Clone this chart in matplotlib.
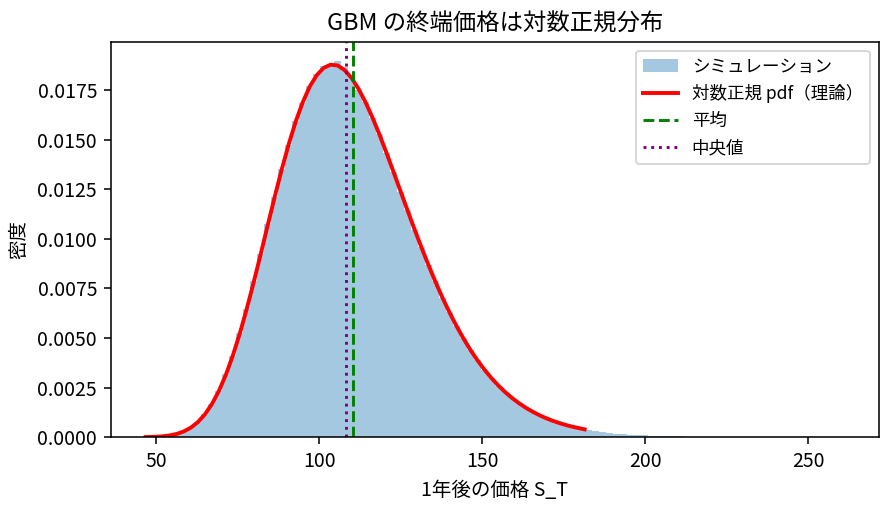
import numpy as np
import matplotlib
matplotlib.use("Agg")
import matplotlib.pyplot as plt

plt.rcParams['font.family'] = ['Noto Sans CJK JP', 'DejaVu Sans']

# histogram of simulated S_T (density per bin), 100 bins
hist_lo, hist_hi = 46.7, 260.9
density = [
    0.00001, 0.00002, 0.00005, 0.00009, 0.00017, 0.00030, 0.00049, 0.00077, 0.00115, 0.00168,
    0.00232, 0.00316, 0.00410, 0.00526, 0.00647, 0.00786, 0.00921, 0.01073, 0.01210, 0.01352,
    0.01475, 0.01594, 0.01684, 0.01770, 0.01832, 0.01872, 0.01880, 0.01897, 0.01868, 0.01815,
    0.01748, 0.01690, 0.01607, 0.01526, 0.01430, 0.01339, 0.01238, 0.01146, 0.01046, 0.00958,
    0.00866, 0.00785, 0.00703, 0.00631, 0.00560, 0.00500, 0.00440, 0.00389, 0.00341, 0.00300,
    0.00260, 0.00228, 0.00196, 0.00171, 0.00147, 0.00127, 0.00109, 0.00094, 0.00080, 0.00069,
    0.00058, 0.00050, 0.00042, 0.00036, 0.00030, 0.00026, 0.00022, 0.00018, 0.00016, 0.00013,
    0.00011, 0.00009, 0.00008, 0.00006, 0.00005, 0.00005, 0.00004, 0.00003, 0.00003, 0.00002,
    0.00002, 0.00002, 0.00001, 0.00001, 0.00001, 0.00001, 0.00001, 0.0, 0.00001, 0.0,
    0.0, 0.00001, 0.0, 0.0, 0.0, 0.0, 0.0, 0.0, 0.0, 0.000005,
]

# theoretical lognormal pdf
curve_x = [46.7, 47.77, 49.91, 52.05, 54.20, 56.34, 58.48, 60.62, 62.76, 64.91,
           67.05, 69.19, 71.33, 73.47, 75.62, 77.76, 79.90, 82.04, 84.18, 86.33,
           88.47, 90.61, 92.75, 94.89, 97.04, 99.18, 101.32, 103.46, 105.60, 107.75,
           109.89, 112.03, 114.17, 116.31, 118.46, 120.60, 122.74, 124.88, 127.02, 129.17,
           131.31, 133.45, 135.59, 137.73, 139.88, 142.02, 144.16, 146.30, 148.44, 150.59,
           152.73, 154.87, 157.01, 159.15, 161.30, 163.44, 165.58, 167.72, 169.86, 172.01,
           174.15, 176.29, 178.43, 180.57, 181.4]
curve_y = [0.000006, 0.0000096, 0.0000219, 0.0000464, 0.0000918, 0.000169, 0.000295, 0.000486, 0.000766, 0.001157,
           0.001674, 0.002336, 0.003151, 0.004124, 0.005244, 0.006490, 0.007838, 0.009253, 0.010700, 0.012134,
           0.013505, 0.014773, 0.015911, 0.016877, 0.017669, 0.018242, 0.018615, 0.018775, 0.018735, 0.018503,
           0.018104, 0.017552, 0.016878, 0.016102, 0.015242, 0.014327, 0.013375, 0.012407, 0.011442, 0.010487,
           0.009568, 0.008683, 0.007839, 0.007045, 0.006302, 0.005619, 0.004989, 0.004408, 0.003888, 0.003416,
           0.002988, 0.002609, 0.002271, 0.001970, 0.001706, 0.001473, 0.001270, 0.001092, 0.000936, 0.000802,
           0.000685, 0.000584, 0.000497, 0.000423, 0.000395]

mean_st = 110.3
median_st = 108.2

fig, ax = plt.subplots(figsize=(893 / 140, 506 / 140), dpi=140)
fig.subplots_adjust(left=0.124, right=0.984, top=0.917, bottom=0.136)

edges = np.linspace(hist_lo, hist_hi, len(density) + 1)
centers = (edges[:-1] + edges[1:]) / 2
ax.hist(centers, bins=edges, weights=density, alpha=0.4, label='シミュレーション')
ax.plot(curve_x, curve_y, color='red', lw=2, label='対数正規 pdf（理論）')
ax.axvline(mean_st, color='green', linestyle='--', label='平均')
ax.axvline(median_st, color='purple', linestyle=':', label='中央値')

ax.set_title('GBM の終端価格は対数正規分布')
ax.set_xlabel('1年後の価格 S_T')
ax.set_ylabel('密度')
ax.legend(loc='upper right', fontsize=9)

fig.savefig('out.png', dpi=140)
